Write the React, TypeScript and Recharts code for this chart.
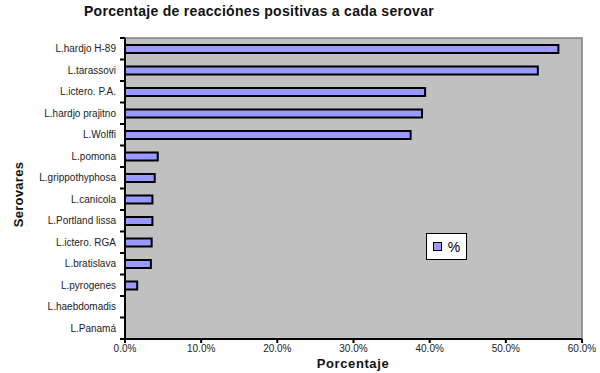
import { BarChart, Bar, XAxis, YAxis, ReferenceArea } from 'recharts';

const serovares = [
    'L.hardjo H-89',
    'L.tarassovi',
    'L.ictero. P.A.',
    'L.hardjo prajitno',
    'L.Wolffi',
    'L.pomona',
    'L.grippothyphosa',
    'L.canicola',
    'L.Portland lissa',
    'L.ictero. RGA',
    'L.bratislava',
    'L.pyrogenes',
    'L.haebdomadis',
    'L.Panamá',
];

const porcentajes = [56.9, 54.2, 39.4, 39.0, 37.5, 4.3, 3.9, 3.6, 3.6, 3.5, 3.4, 1.6, 0, 0];

const xTicks = [0, 10, 20, 30, 40, 50, 60];

const data = serovares.map((name, i) => ({ name, value: porcentajes[i] }));

const WIDTH = 600;
const HEIGHT = 373;
const MARGIN = { top: 38, right: 18, left: 0, bottom: 0 };
const X_AXIS_HEIGHT = 34;
const FONT = '"Liberation Sans", Arial, sans-serif';

// Excel puts the category ticks between the bars, not on them
const step = (HEIGHT - MARGIN.top - MARGIN.bottom - X_AXIS_HEIGHT) / serovares.length;

function CategoryTick(props: any) {
    const { x, y, payload, index } = props;
    return (
        <g>
            <text x={x - 9} y={y} dy="0.35em" textAnchor="end" fontSize={10} fill="#222" fontFamily={FONT}>
                {payload.value}
            </text>
            <line x1={x - 5} x2={x} y1={y - step / 2} y2={y - step / 2} stroke="#000" strokeWidth={2} />
            {index === serovares.length - 1 && (
                <line x1={x - 5} x2={x} y1={y + step / 2} y2={y + step / 2} stroke="#000" strokeWidth={2} />
            )}
        </g>
    );
}

function LegendBox() {
    return (
        <div
            style={{
                position: 'absolute',
                left: 426,
                top: 233,
                width: 39,
                height: 25,
                border: '1px solid #000',
                background: '#fff',
                display: 'flex',
                alignItems: 'center',
                justifyContent: 'center',
                gap: 6,
                fontFamily: FONT,
                fontSize: 14,
            }}
        >
            <span style={{ width: 7, height: 7, background: '#9999ff', border: '1.5px solid #000' }} />
            <span>%</span>
        </div>
    );
}

export default function App() {
    return (
        <div style={{ position: 'absolute', left: 0, top: 0, width: WIDTH, height: HEIGHT, background: '#fff' }}>
            <div
                style={{
                    position: 'absolute',
                    left: 0,
                    width: 518,
                    top: 3,
                    textAlign: 'center',
                    fontFamily: FONT,
                    fontWeight: 'bold',
                    fontSize: 14,
                    letterSpacing: 0.3,
                    color: '#111',
                }}
            >
                Porcentaje de reacciónes positivas a cada serovar
            </div>
            <div
                style={{
                    position: 'absolute',
                    left: 293,
                    width: 120,
                    top: 356,
                    textAlign: 'center',
                    fontFamily: FONT,
                    fontWeight: 'bold',
                    fontSize: 13,
                    letterSpacing: 0.6,
                    color: '#111',
                }}
            >
                Porcentaje
            </div>
            <div
                style={{
                    position: 'absolute',
                    left: -32,
                    top: 187,
                    width: 100,
                    textAlign: 'center',
                    transform: 'rotate(-90deg)',
                    fontFamily: FONT,
                    fontWeight: 'bold',
                    fontSize: 13,
                    letterSpacing: 0.3,
                    color: '#111',
                }}
            >
                Serovares
            </div>
            <BarChart width={WIDTH} height={HEIGHT} data={data} layout="vertical" margin={MARGIN}>
                <ReferenceArea x1={0} x2={60} fill="#c0c0c0" fillOpacity={1} stroke="#808080" strokeWidth={1.5} />
                <XAxis
                    type="number"
                    domain={[0, 60]}
                    ticks={xTicks}
                    height={X_AXIS_HEIGHT}
                    tickFormatter={(v: number) => v.toFixed(1) + '%'}
                    tick={{ fontSize: 10, fill: '#222', fontFamily: FONT }}
                    axisLine={{ stroke: '#000', strokeWidth: 2 }}
                    tickLine={{ stroke: '#000', strokeWidth: 2 }}
                    tickSize={4}
                    tickMargin={2}
                />
                <YAxis
                    type="category"
                    dataKey="name"
                    width={125}
                    interval={0}
                    tick={<CategoryTick />}
                    tickLine={false}
                    tickSize={0}
                    tickMargin={0}
                    axisLine={{ stroke: '#000', strokeWidth: 2 }}
                />
                <Bar
                    dataKey="value"
                    name="%"
                    fill="#9999ff"
                    stroke="#000"
                    strokeWidth={2}
                    barSize={8}
                    isAnimationActive={false}
                />
            </BarChart>
            <LegendBox />
        </div>
    );
}
